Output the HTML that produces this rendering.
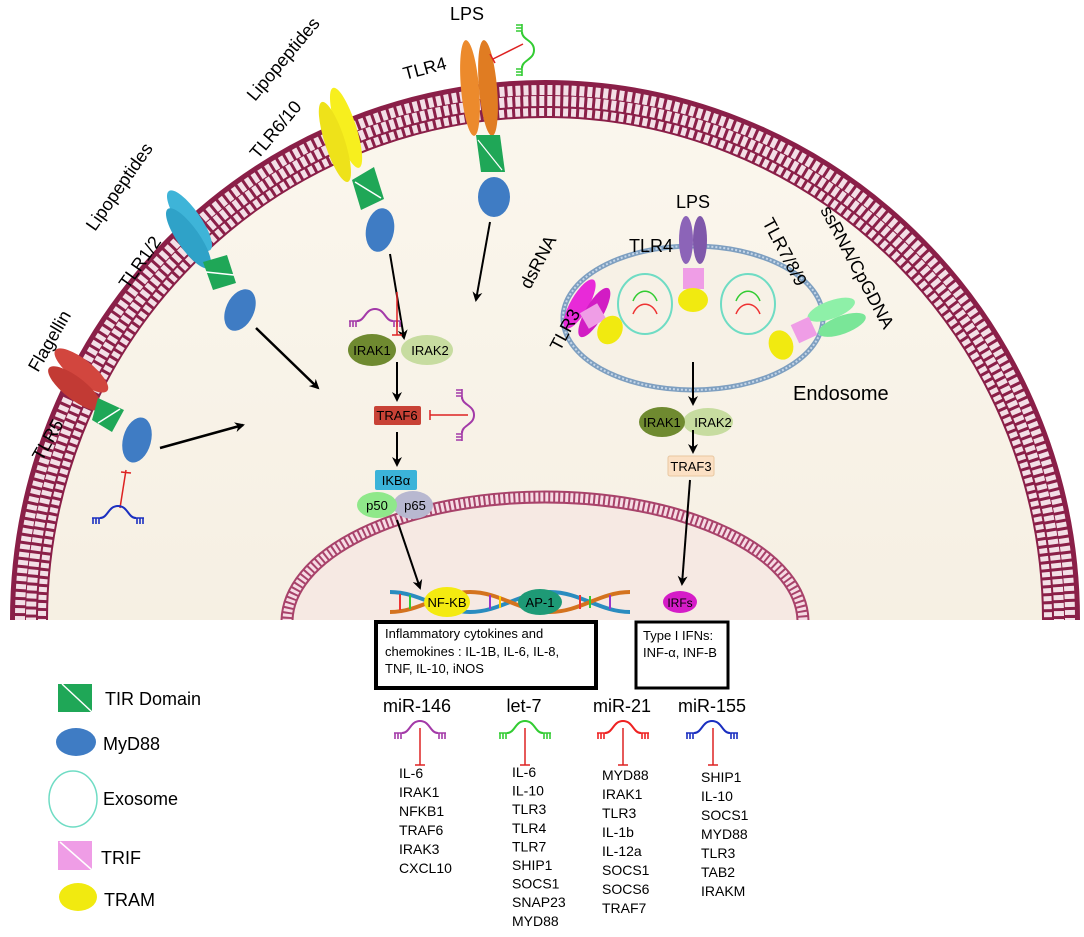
<!DOCTYPE html>
<html><head><meta charset="utf-8"><style>
html,body{margin:0;padding:0;background:#fff;width:1084px;height:937px;overflow:hidden}
svg{display:block}
text{font-family:"Liberation Sans",sans-serif}
</style></head><body>
<svg width="1084" height="937" viewBox="0 0 1084 937" xmlns="http://www.w3.org/2000/svg">
<defs>
<marker id="ar" markerWidth="10" markerHeight="10" refX="8" refY="5" orient="auto" markerUnits="userSpaceOnUse"><path d="M0,0 L10,5 L0,10 L3,5 Z" fill="#000"/></marker>
<clipPath id="cell"><rect x="0" y="0" width="1084" height="620"/></clipPath>
<symbol id="mir" viewBox="-30 -16 60 22" overflow="visible">
<path d="M-18,0 C-10,0 -10,-12 0,-12 C10,-12 10,0 18,0" fill="none" stroke="currentColor" stroke-width="2"/>
<path d="M-26,0 H-16 M-25,0 V6 M-22,0 V6 M-19,0 V6 M16,0 H26 M19,0 V6 M22,0 V6 M25,0 V6" fill="none" stroke="currentColor" stroke-width="1.6"/>
</symbol>
<linearGradient id="bg" x1="0" y1="0" x2="0" y2="1"><stop offset="0" stop-color="#fbf7ee"/><stop offset="1" stop-color="#f1e8d8"/></linearGradient>
</defs>
<g clip-path="url(#cell)">
<ellipse cx="545" cy="620" rx="535" ry="540" fill="url(#bg)"/>
<ellipse cx="545" cy="620" rx="516" ry="521" fill="none" stroke="#8a1f48" stroke-width="38"/>
<ellipse cx="545" cy="620" rx="525" ry="530" fill="none" stroke="#f3dfe6" stroke-width="10" stroke-dasharray="5 3"/>
<ellipse cx="545" cy="620" rx="514" ry="519" fill="none" stroke="#f3dfe6" stroke-width="10" stroke-dasharray="5 3" stroke-dashoffset="4"/>
<ellipse cx="545" cy="620" rx="503" ry="508" fill="none" stroke="#f3dfe6" stroke-width="8" stroke-dasharray="5 3"/>
<ellipse cx="545" cy="622" rx="258" ry="125" fill="#f6e9e3"/>
<ellipse cx="545" cy="622" rx="258" ry="125" fill="none" stroke="#a8426a" stroke-width="13"/>
<ellipse cx="545" cy="622" rx="258" ry="125" fill="none" stroke="#f6dbe4" stroke-width="9" stroke-dasharray="3 2"/>
</g>
<ellipse cx="693" cy="318" rx="130" ry="72" fill="#f7f1e6" stroke="#7e9fc0" stroke-width="5"/>
<ellipse cx="693" cy="318" rx="130" ry="72" fill="none" stroke="#c5d6e8" stroke-width="2" stroke-dasharray="2 2"/>
<ellipse cx="645" cy="304" rx="27" ry="30" fill="none" stroke="#6fdcc4" stroke-width="2"/>
<ellipse cx="748" cy="304" rx="27" ry="30" fill="none" stroke="#6fdcc4" stroke-width="2"/>
<path d="M633,301 C638,288 652,288 657,301" fill="none" stroke="#3c3" stroke-width="1.5"/>
<path d="M633,314 C638,301 652,301 657,314" fill="none" stroke="#e33" stroke-width="1.5"/>
<path d="M736,301 C741,288 755,288 760,301" fill="none" stroke="#3c3" stroke-width="1.5"/>
<path d="M736,314 C741,301 755,301 760,314" fill="none" stroke="#e33" stroke-width="1.5"/>

<g transform="rotate(38 78 378)"><ellipse cx="76" cy="370" rx="33" ry="11" fill="#d2463e"/><ellipse cx="82" cy="388" rx="33" ry="11" fill="#c23a34"/></g>
<polygon points="98,398 124,410 112,432 92,420" fill="#1fa757"/>
<line x1="98" y1="423" x2="120" y2="409" stroke="#fff" stroke-width="1.5"/>
<ellipse cx="137" cy="440" rx="14" ry="23" fill="#3f7cc4" transform="rotate(15 137 440)"/>
<text font-size="18" transform="translate(38,373) rotate(-60)">Flagellin</text>
<text font-size="18" transform="translate(42,462) rotate(-60)">TLR5</text>
<line x1="160" y1="448" x2="243" y2="425" stroke="#000" stroke-width="2.5" marker-end="url(#ar)"/>
<line x1="120" y1="508" x2="126" y2="470" stroke="#d22" stroke-width="1.5"/><line x1="121" y1="472" x2="131" y2="473" stroke="#d22" stroke-width="1.5"/>
<use href="#mir" x="88" y="502" width="60" height="22" style="color:#1a2fc0"/>

<g transform="rotate(55 190 230)"><ellipse cx="182" cy="225" rx="36" ry="11" fill="#3eb4d8"/><ellipse cx="196" cy="236" rx="36" ry="11" fill="#2fa2c8"/></g>
<polygon points="203,262 227,255 236,283 213,290" fill="#1fa757"/>
<line x1="206" y1="272" x2="234" y2="275" stroke="#fff" stroke-width="1.5"/>
<ellipse cx="240" cy="310" rx="14" ry="22" fill="#3f7cc4" transform="rotate(25 240 310)"/>
<text font-size="18" transform="translate(95,232) rotate(-55)">Lipopeptides</text>
<text font-size="18" transform="translate(128,290) rotate(-55)">TLR1/2</text>
<line x1="256" y1="328" x2="318" y2="388" stroke="#000" stroke-width="2.5" marker-end="url(#ar)"/>

<g transform="rotate(72 340 135)"><ellipse cx="335" cy="127" rx="42" ry="10" fill="#f7ef1e"/><ellipse cx="345" cy="142" rx="42" ry="10" fill="#eee21a"/></g>
<polygon points="352,180 374,167 384,199 361,210" fill="#1fa757"/>
<line x1="355" y1="182" x2="381" y2="198" stroke="#fff" stroke-width="1.5"/>
<ellipse cx="380" cy="230" rx="14" ry="22" fill="#3f7cc4" transform="rotate(10 380 230)"/>
<text font-size="18" transform="translate(255,102) rotate(-50)">Lipopeptides</text>
<text font-size="18" transform="translate(258,160) rotate(-50)">TLR6/10</text>
<line x1="390" y1="254" x2="404" y2="338" stroke="#000" stroke-width="2" marker-end="url(#ar)"/>

<ellipse cx="470" cy="88" rx="9" ry="48" fill="#ec8a2c" transform="rotate(-5 470 88)"/>
<ellipse cx="488" cy="88" rx="9" ry="48" fill="#e07c22" transform="rotate(-5 488 88)"/>
<polygon points="476,135 500,135 505,172 481,172" fill="#1fa757"/>
<line x1="478" y1="140" x2="502" y2="170" stroke="#fff" stroke-width="1.2"/>
<ellipse cx="494" cy="197" rx="16" ry="20" fill="#3f7cc4"/>
<text x="450" y="20" font-size="18">LPS</text>
<text font-size="18" x="405" y="80" transform="rotate(-15 405 80)">TLR4</text>
<line x1="523" y1="44" x2="493" y2="59" stroke="#d22" stroke-width="1.5"/><line x1="490" y1="54" x2="495" y2="63" stroke="#d22" stroke-width="1.5"/>
<g transform="translate(522,50) rotate(90)"><use href="#mir" x="-30" y="-16" width="60" height="22" style="color:#3c3"/></g>
<line x1="490" y1="222" x2="476" y2="300" stroke="#000" stroke-width="2" marker-end="url(#ar)"/>

<use href="#mir" x="345" y="305" width="60" height="22" style="color:#a33aa8"/>
<line x1="397" y1="292" x2="397" y2="335" stroke="#d22" stroke-width="1.5"/><line x1="392" y1="335" x2="402" y2="335" stroke="#d22" stroke-width="1.5"/>
<ellipse cx="427" cy="350" rx="26" ry="15" fill="#c7dca0"/>
<ellipse cx="372" cy="350" rx="24" ry="16" fill="#6f8a30"/>
<text x="372" y="355" font-size="13" text-anchor="middle">IRAK1</text>
<text x="430" y="355" font-size="13" text-anchor="middle">IRAK2</text>
<line x1="397" y1="362" x2="397" y2="400" stroke="#000" stroke-width="2" marker-end="url(#ar)"/>
<rect x="374" y="406" width="47" height="19" rx="2" fill="#c84236"/>
<text x="397" y="420" font-size="13" text-anchor="middle">TRAF6</text>
<line x1="468" y1="415" x2="430" y2="415" stroke="#d22" stroke-width="1.5"/><line x1="430" y1="410" x2="430" y2="420" stroke="#d22" stroke-width="1.5"/>
<g transform="translate(462,415) rotate(90)"><use href="#mir" x="-30" y="-16" width="60" height="22" style="color:#a33aa8"/></g>
<line x1="397" y1="432" x2="397" y2="465" stroke="#000" stroke-width="2" marker-end="url(#ar)"/>
<rect x="375" y="470" width="42" height="20" rx="2" fill="#3bb3d9"/>
<text x="396" y="485" font-size="13" text-anchor="middle">IKBα</text>
<ellipse cx="413" cy="505" rx="20" ry="14" fill="#b8b8d0"/>
<ellipse cx="377" cy="505" rx="20" ry="13" fill="#8fe88a"/>
<text x="377" y="510" font-size="13" text-anchor="middle">p50</text>
<text x="415" y="510" font-size="13" text-anchor="middle">p65</text>
<line x1="397" y1="520" x2="420" y2="588" stroke="#000" stroke-width="2" marker-end="url(#ar)"/>

<g stroke-width="4" fill="none">
<path d="M390,592 C420,592 440,612 470,612 C500,612 520,592 550,592 C580,592 600,612 630,612" stroke="#2a8cbf"/>
<path d="M390,612 C420,612 440,592 470,592 C500,592 520,612 550,612 C580,612 600,592 630,592" stroke="#d4731e"/>
</g>
<g stroke-width="2">
<line x1="400" y1="594" x2="400" y2="610" stroke="#e33"/><line x1="410" y1="595" x2="410" y2="609" stroke="#3c3"/><line x1="490" y1="595" x2="490" y2="609" stroke="#93c"/><line x1="500" y1="596" x2="500" y2="608" stroke="#fc0"/><line x1="580" y1="595" x2="580" y2="609" stroke="#e33"/><line x1="590" y1="596" x2="590" y2="608" stroke="#3c3"/><line x1="610" y1="595" x2="610" y2="609" stroke="#93c"/>
</g>
<ellipse cx="447" cy="602" rx="23" ry="15" fill="#f4ea10"/>
<text x="447" y="607" font-size="13" text-anchor="middle">NF-KB</text>
<ellipse cx="540" cy="602" rx="22" ry="13" fill="#1e9a76"/>
<text x="540" y="607" font-size="13" text-anchor="middle">AP-1</text>
<ellipse cx="680" cy="602" rx="17" ry="11" fill="#d51cc8"/>
<text x="680" y="607" font-size="12" text-anchor="middle">IRFs</text>

<g transform="rotate(-60 590 310)"><ellipse cx="590" cy="298" rx="28" ry="9" fill="#e82ad8"/><ellipse cx="590" cy="315" rx="28" ry="9" fill="#d21cc4"/></g>
<rect x="583" y="307" width="20" height="18" fill="#ef9de6" transform="rotate(-30 593 316)"/>
<ellipse cx="610" cy="330" rx="12" ry="15" fill="#f1ea10" transform="rotate(30 610 330)"/>
<text font-size="18" transform="translate(530,290) rotate(-62)">dsRNA</text>
<text font-size="18" transform="translate(560,352) rotate(-62)">TLR3</text>
<ellipse cx="686" cy="240" rx="7" ry="24" fill="#8c64b8"/><ellipse cx="700" cy="240" rx="7" ry="24" fill="#7f58aa"/>
<rect x="683" y="268" width="21" height="21" fill="#ef9de6"/>
<ellipse cx="693" cy="300" rx="15" ry="12" fill="#f1ea10"/>
<text x="676" y="208" font-size="18">LPS</text>
<text x="629" y="252" font-size="18">TLR4</text>
<g transform="rotate(-20 835 320)"><ellipse cx="835" cy="309" rx="25" ry="9" fill="#8ef0a8"/><ellipse cx="840" cy="327" rx="25" ry="9" fill="#7ae698"/></g>
<rect x="794" y="320" width="20" height="20" fill="#ef9de6" transform="rotate(-25 804 330)"/>
<ellipse cx="781" cy="345" rx="12" ry="15" fill="#f1ea10" transform="rotate(-20 781 345)"/>
<text font-size="18" transform="translate(762,222) rotate(62)">TLR7/8/9</text>
<text font-size="18" transform="translate(820,210) rotate(62)">ssRNA/CpGDNA</text>
<text x="793" y="400" font-size="20">Endosome</text>
<line x1="693" y1="362" x2="693" y2="404" stroke="#000" stroke-width="2" marker-end="url(#ar)"/>
<ellipse cx="708" cy="422" rx="25" ry="14" fill="#c7dca0"/>
<ellipse cx="662" cy="422" rx="23" ry="15" fill="#6f8a30"/>
<text x="662" y="427" font-size="13" text-anchor="middle">IRAK1</text>
<text x="713" y="427" font-size="13" text-anchor="middle">IRAK2</text>
<line x1="693" y1="430" x2="693" y2="452" stroke="#000" stroke-width="2" marker-end="url(#ar)"/>
<rect x="668" y="456" width="46" height="20" rx="2" fill="#fbe0c4" stroke="#e8c7a0"/>
<text x="691" y="471" font-size="13" text-anchor="middle">TRAF3</text>
<line x1="690" y1="480" x2="682" y2="584" stroke="#000" stroke-width="2" marker-end="url(#ar)"/>

<rect x="376" y="622" width="220" height="66" fill="#fff" stroke="#000" stroke-width="4"/>
<text font-size="13"><tspan x="385" y="638">Inflammatory cytokines and</tspan><tspan x="385" y="656">chemokines : IL-1B, IL-6, IL-8,</tspan><tspan x="385" y="673">TNF, IL-10, iNOS</tspan></text>
<rect x="636" y="622" width="92" height="66" fill="#fff" stroke="#000" stroke-width="3"/>
<text font-size="13"><tspan x="643" y="640">Type I IFNs:</tspan><tspan x="643" y="657">INF-α, INF-B</tspan></text>

<rect x="58" y="684" width="34" height="28" fill="#1fa757"/>
<line x1="62" y1="684" x2="92" y2="712" stroke="#fff" stroke-width="1.5"/>
<text x="105" y="705" font-size="18">TIR Domain</text>
<ellipse cx="76" cy="742" rx="20" ry="14" fill="#3f7cc4"/>
<text x="103" y="750" font-size="18">MyD88</text>
<ellipse cx="73" cy="799" rx="24" ry="28" fill="none" stroke="#6fdcc4" stroke-width="1.5"/>
<text x="103" y="805" font-size="18">Exosome</text>
<rect x="58" y="841" width="34" height="29" fill="#ef9de6"/>
<line x1="60" y1="842" x2="92" y2="870" stroke="#fff" stroke-width="1.5"/>
<text x="101" y="864" font-size="18">TRIF</text>
<ellipse cx="78" cy="897" rx="19" ry="14" fill="#f1ea10"/>
<text x="104" y="906" font-size="18">TRAM</text>

<text x="417" y="712" font-size="18" text-anchor="middle">miR-146</text>
<text x="524" y="712" font-size="18" text-anchor="middle">let-7</text>
<text x="622" y="712" font-size="18" text-anchor="middle">miR-21</text>
<text x="712" y="712" font-size="18" text-anchor="middle">miR-155</text>
<use href="#mir" x="390" y="717" width="60" height="22" style="color:#a33aa8"/>
<use href="#mir" x="495" y="717" width="60" height="22" style="color:#3c3"/>
<use href="#mir" x="593" y="717" width="60" height="22" style="color:#e22"/>
<use href="#mir" x="682" y="717" width="60" height="22" style="color:#1a2fc0"/>
<g stroke="#d22" stroke-width="1.5">
<line x1="420" y1="728" x2="420" y2="765"/><line x1="415" y1="765" x2="425" y2="765"/>
<line x1="525" y1="728" x2="525" y2="765"/><line x1="520" y1="765" x2="530" y2="765"/>
<line x1="623" y1="728" x2="623" y2="765"/><line x1="618" y1="765" x2="628" y2="765"/>
<line x1="713" y1="728" x2="713" y2="765"/><line x1="708" y1="765" x2="718" y2="765"/>
</g>
<g font-size="14">
<text x="399" y="778"><tspan x="399" dy="0">IL-6</tspan><tspan x="399" dy="19">IRAK1</tspan><tspan x="399" dy="19">NFKB1</tspan><tspan x="399" dy="19">TRAF6</tspan><tspan x="399" dy="19">IRAK3</tspan><tspan x="399" dy="19">CXCL10</tspan></text>
<text x="512" y="777"><tspan x="512" dy="0">IL-6</tspan><tspan x="512" dy="18.6">IL-10</tspan><tspan x="512" dy="18.6">TLR3</tspan><tspan x="512" dy="18.6">TLR4</tspan><tspan x="512" dy="18.6">TLR7</tspan><tspan x="512" dy="18.6">SHIP1</tspan><tspan x="512" dy="18.6">SOCS1</tspan><tspan x="512" dy="18.6">SNAP23</tspan><tspan x="512" dy="18.6">MYD88</tspan></text>
<text x="602" y="780"><tspan x="602" dy="0">MYD88</tspan><tspan x="602" dy="19">IRAK1</tspan><tspan x="602" dy="19">TLR3</tspan><tspan x="602" dy="19">IL-1b</tspan><tspan x="602" dy="19">IL-12a</tspan><tspan x="602" dy="19">SOCS1</tspan><tspan x="602" dy="19">SOCS6</tspan><tspan x="602" dy="19">TRAF7</tspan></text>
<text x="701" y="782"><tspan x="701" dy="0">SHIP1</tspan><tspan x="701" dy="19">IL-10</tspan><tspan x="701" dy="19">SOCS1</tspan><tspan x="701" dy="19">MYD88</tspan><tspan x="701" dy="19">TLR3</tspan><tspan x="701" dy="19">TAB2</tspan><tspan x="701" dy="19">IRAKM</tspan></text>
</g>
</svg>
</body></html>
